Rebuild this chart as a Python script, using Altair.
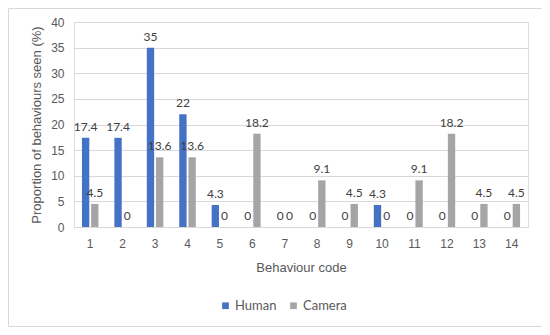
import altair as alt
import pandas as pd

codes = ["1", "2", "3", "4", "5", "6", "7", "8", "9", "10", "11", "12", "13", "14"]
human = [17.4, 17.4, 35, 22, 4.3, 0, 0, 0, 0, 4.3, 0, 0, 0, 0]
camera = [4.5, 0, 13.6, 13.6, 0, 18.2, 0, 9.1, 4.5, 0, 9.1, 18.2, 4.5, 4.5]
series = ["Human", "Camera"]
colors = ["#4472C4", "#A5A5A5"]
y_ticks = [0, 5, 10, 15, 20, 25, 30, 35, 40]


def fmt(v):
    return str(int(v)) if float(v).is_integer() else str(v)


rows = []
for c, h, k in zip(codes, human, camera):
    rows.append({"code": c, "series": "Human", "value": h, "label": fmt(h)})
    rows.append({"code": c, "series": "Camera", "value": k, "label": fmt(k)})
df = pd.DataFrame(rows)

FONT = "Lato"

x_enc = alt.X(
    "code:N",
    sort=codes,
    scale=alt.Scale(paddingInner=0.49, paddingOuter=0.245),
    axis=alt.Axis(
        title="Behaviour code",
        labelAngle=0,
        ticks=False,
        domainColor="#d9d9d9",
        labelPadding=11,
        labelFontSize=12,
        labelColor="#595959",
        titleFontSize=13,
        titleColor="#595959",
        titleFontWeight="normal",
        titleY=40,
        titleBaseline="middle",
    ),
)
xoff = alt.XOffset("series:N", sort=series, scale=alt.Scale(paddingInner=0.2))
y_enc = alt.Y(
    "value:Q",
    scale=alt.Scale(domain=[0, 40], nice=False),
    axis=alt.Axis(
        title="Proportion of behaviours seen (%)",
        values=y_ticks,
        domain=False,
        ticks=False,
        gridColor="#d9d9d9",
        labelPadding=10,
        labelFontSize=12,
        labelColor="#595959",
        titleFontSize=13,
        titleColor="#595959",
        titleFontWeight="normal",
        titleX=-38,
        titleBaseline="middle",
    ),
)

bars = alt.Chart(df).mark_bar().encode(
    x=x_enc,
    xOffset=xoff,
    y=y_enc,
    color=alt.Color(
        "series:N",
        sort=series,
        scale=alt.Scale(domain=series, range=colors),
        legend=alt.Legend(
            title=None,
            orient="none",
            direction="horizontal",
            legendX=145,
            legendY=277,
            symbolType="square",
            symbolSize=45,
            symbolStrokeWidth=0,
            labelFontSize=13,
            labelColor="#595959",
            labelFont=FONT,
            labelOffset=3,
            columnPadding=10,
            padding=0,
        ),
    ),
)

labels = alt.Chart(df).mark_text(
    baseline="alphabetic", dy=-7, fontSize=12, color="#404040", font=FONT
).encode(x=x_enc, xOffset=xoff, y=y_enc, text="label:N")

border = alt.Chart(pd.DataFrame({"a": [0]})).mark_rect(
    filled=False, stroke="#d9d9d9", strokeWidth=1
).encode(
    x=alt.value(-65.5), x2=alt.value(469.5), y=alt.value(-13.5), y2=alt.value(304.5)
)

chart = (
    alt.layer(border, bars, labels)
    .properties(
        width=454,
        height=205,
        autosize=alt.AutoSizeParams(type="none"),
        padding={"left": 66, "top": 14, "right": 14, "bottom": 102},
    )
    .configure_view(stroke=None)
    .configure_axis(labelFont=FONT, titleFont=FONT)
    .configure(background="white")
)

chart.save("out.html", embed_options={"renderer": "svg", "actions": False})
